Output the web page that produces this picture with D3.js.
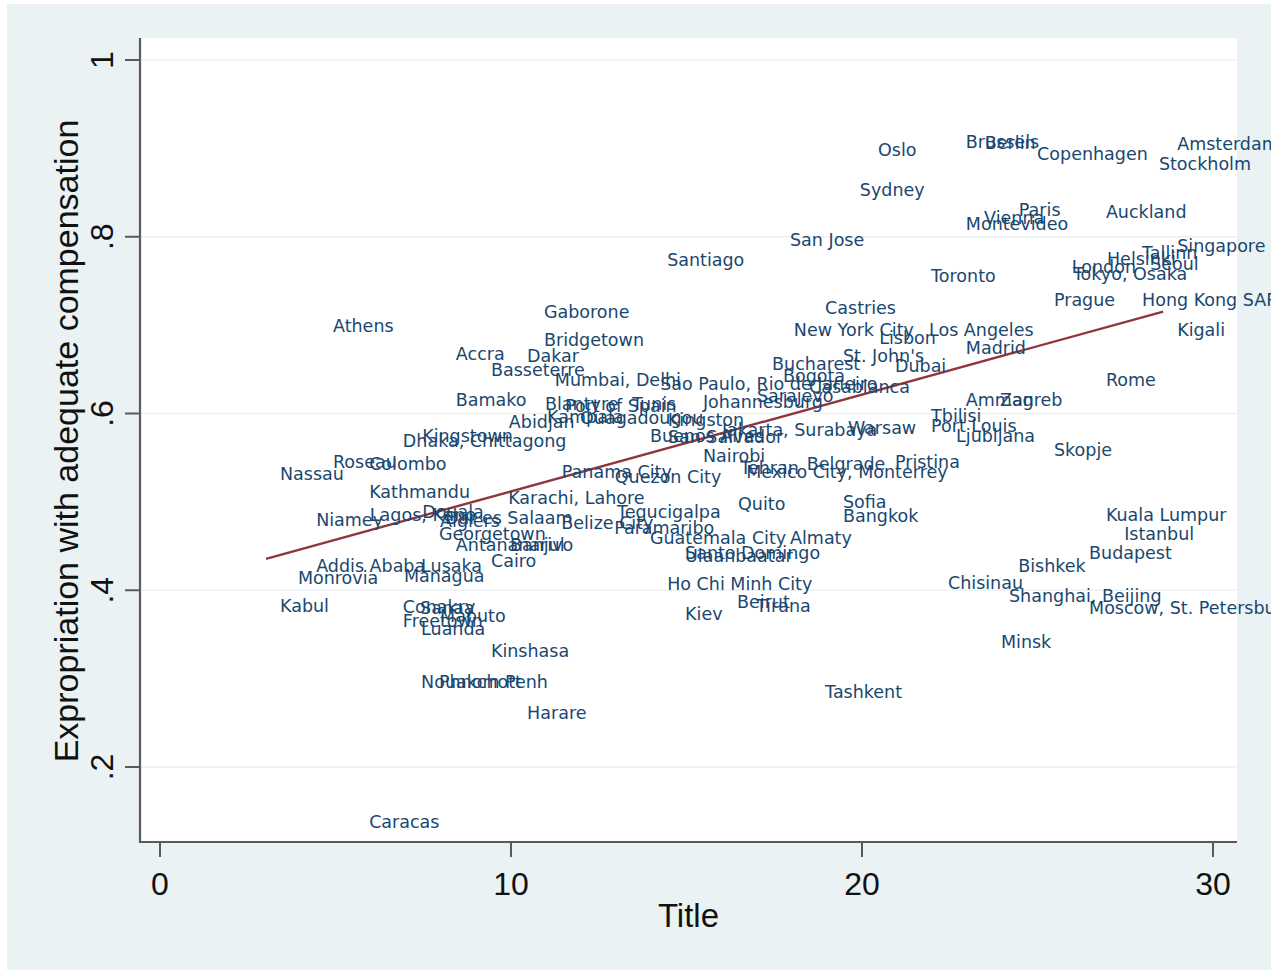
<!DOCTYPE html>
<html>
<head>
<meta charset="utf-8">
<script src="https://cdn.jsdelivr.net/npm/d3@7"></script>
<style>
  body { margin: 0; background: #fff; }
  text { font-family: "Liberation Sans", Arial, sans-serif; }
  .city { font-family: "DejaVu Sans", Verdana, sans-serif; font-size: 17.5px; fill: #1a476f; }
</style>
</head>
<body>
<div id="chart"></div>
<script>

// city labels, with title score (x) and expropriation score (y)
var cities = ['Oslo','Sydney','Brussels','Berlin','Copenhagen','Amsterdam','Stockholm','Paris','Vienna','Montevideo',
  'Auckland','San Jose','Santiago','Toronto','Singapore','Tallinn','Helsinki','Seoul','London','Tokyo, Osaka',
  'Prague','Hong Kong SAR','Kigali','Gaborone','Castries','Athens','New York City','Los Angeles','Lisbon','Bridgetown',
  'Madrid','Accra','Dakar',"St. John's",'Basseterre','Dubai','Bucharest','Mumbai, Delhi','Sao Paulo, Rio de Janeiro','Bogota',
  'Casablanca','Sarajevo','Johannesburg','Bamako','Rome','Amman','Zagreb','Blantyre','Port of Spain','Tunis',
  'Kampala','Ouagadougou','Kingston','Abidjan','Tbilisi','Port Louis','Warsaw','Jakarta, Surabaya','Buenos Aires','San Salvador',
  'Ljubljana','Skopje','Kingstown','Dhaka, Chittagong','Roseau','Colombo','Nassau','Nairobi','Belgrade','Pristina',
  'Tehran','Mexico City, Monterrey','Panama City','Quezon City','Kathmandu','Karachi, Lahore','Sofia','Quito','Bangkok','Tegucigalpa',
  'Douala','Niamey','Lagos, Kano','Algiers','Dar es Salaam','Belize City','Paramaribo','Georgetown','Guatemala City','Almaty',
  'Antananarivo','Banjul','Cairo','Santo Domingo','Ulaanbaatar','Addis Ababa','Lusaka','Monrovia','Managua','Kuala Lumpur',
  'Istanbul','Budapest','Bishkek','Chisinau','Shanghai, Beijing','Moscow, St. Petersburg','Minsk','Tashkent','Ho Chi Minh City','Beirut',
  'Tirana','Kiev','Kabul','Conakry','Sanaa','Freetown','Maputo','Luanda','Kinshasa','Nouakchott',
  'Phnom Penh','Harare','Caracas']

var title = [20.06,19.54,22.56,23.1,24.59,28.58,28.06,24.07,23.08,22.56,
  26.55,17.55,14.05,21.57,28.58,27.58,26.58,27.81,25.58,25.61,
  25.07,27.58,28.58,10.54,18.55,4.53,17.66,21.51,20.09,10.54,
  22.56,8.03,10.06,19.06,9.03,20.54,17.04,10.85,13.85,17.35,
  18.09,16.61,15.07,8.03,26.55,22.56,23.53,10.57,11.14,13.05,
  10.63,11.57,14.07,9.54,21.57,21.57,19.2,15.61,13.56,14.07,
  22.28,25.07,7.07,6.52,4.53,5.56,3.02,15.07,18.03,20.54,
  16.13,16.3,11.05,12.56,5.56,9.52,19.06,16.07,19.06,12.62,
  7.07,4.05,5.58,7.58,7.72,11.03,12.54,7.55,13.56,17.55,
  8.03,9.57,9.03,14.56,14.56,4.05,7.04,3.53,6.55,26.55,
  27.07,26.07,24.05,22.05,23.79,26.07,23.56,18.55,14.05,16.04,
  16.58,14.56,3.02,6.52,7.01,6.52,7.58,7.04,9.03,7.04,
  7.55,10.06,5.56]

var exprop = [0.899,0.853,0.908,0.906,0.894,0.905,0.883,0.831,0.822,0.815,
  0.828,0.797,0.774,0.756,0.790,0.782,0.775,0.769,0.766,0.758,
  0.729,0.729,0.695,0.715,0.720,0.699,0.695,0.695,0.686,0.683,
  0.674,0.668,0.665,0.665,0.649,0.654,0.656,0.638,0.634,0.643,
  0.630,0.620,0.613,0.616,0.638,0.616,0.616,0.611,0.609,0.611,
  0.596,0.595,0.593,0.591,0.597,0.586,0.584,0.582,0.575,0.574,
  0.575,0.559,0.575,0.569,0.545,0.543,0.532,0.552,0.543,0.545,
  0.539,0.534,0.534,0.529,0.511,0.505,0.500,0.498,0.484,0.489,
  0.489,0.480,0.485,0.479,0.482,0.477,0.471,0.464,0.459,0.459,
  0.452,0.452,0.434,0.443,0.439,0.428,0.428,0.414,0.416,0.486,
  0.464,0.443,0.428,0.409,0.394,0.380,0.342,0.285,0.407,0.387,
  0.382,0.373,0.382,0.381,0.380,0.366,0.371,0.357,0.332,0.296,
  0.296,0.262,0.138]

// fitted line
var fitIntercept = 0.4024
var fitSlope = 0.01095

var xTicks = [0, 10, 20, 30]
var yTicks = [0.2, 0.4, 0.6, 0.8, 1]
var yTickLabels = ['.2', '.4', '.6', '.8', '1']

var W = 1284, H = 972
var svg = d3.select("#chart").append("svg")
    .attr("width", W).attr("height", H)

// outer graph region
svg.append("rect").attr("x", 7).attr("y", 4).attr("width", 1264).attr("height", 966)
    .attr("fill", "#eaf2f3")

var x = d3.scaleLinear().domain([0, 30]).range([160, 1213])
var y = d3.scaleLinear().domain([0.2, 1]).range([767, 60])

var plotL = 140, plotR = 1237, plotT = 38, plotB = 842

svg.append("rect").attr("x", plotL).attr("y", plotT)
    .attr("width", plotR - plotL).attr("height", plotB - plotT)
    .attr("fill", "#ffffff")

svg.append("defs").append("clipPath").attr("id", "outer")
    .append("rect").attr("x", 7).attr("y", 4).attr("width", 1264).attr("height", 966)

// gridlines
svg.selectAll(".grid").data(yTicks).enter().append("line")
    .attr("x1", plotL).attr("x2", plotR)
    .attr("y1", d => y(d)).attr("y2", d => y(d))
    .attr("stroke", "#eaf2f3").attr("stroke-width", 1.6)

// fit line
var xmin = d3.min(title), xmax = d3.max(title)
svg.append("line")
    .attr("x1", x(xmin)).attr("y1", y(fitIntercept + fitSlope * xmin))
    .attr("x2", x(xmax)).attr("y2", y(fitIntercept + fitSlope * xmax))
    .attr("stroke", "#90353b").attr("stroke-width", 2.4)

// marker labels (position 3 o'clock, no marker symbol)
svg.append("g").attr("clip-path", "url(#outer)")
  .selectAll("text").data(cities).enter().append("text")
    .attr("class", "city")
    .attr("x", (d, i) => x(title[i]) + 14)
    .attr("y", (d, i) => y(exprop[i]))
    .attr("dy", "0.36em")
    .text(d => d)

// axes
var axisColor = "#5a5a5a"
svg.append("line").attr("x1", plotL).attr("x2", plotL).attr("y1", plotT).attr("y2", plotB + 1)
    .attr("stroke", axisColor).attr("stroke-width", 2.2)
svg.append("line").attr("x1", plotL - 1).attr("x2", plotR).attr("y1", plotB).attr("y2", plotB)
    .attr("stroke", axisColor).attr("stroke-width", 2.2)

svg.selectAll(".ytick").data(yTicks).enter().append("line")
    .attr("x1", plotL - 15).attr("x2", plotL)
    .attr("y1", d => y(d)).attr("y2", d => y(d))
    .attr("stroke", axisColor).attr("stroke-width", 2)

svg.selectAll(".xtick").data(xTicks).enter().append("line")
    .attr("x1", d => x(d)).attr("x2", d => x(d))
    .attr("y1", plotB).attr("y2", plotB + 15)
    .attr("stroke", axisColor).attr("stroke-width", 2)

svg.selectAll(".ylab").data(yTicks).enter().append("text")
    .attr("transform", d => "translate(113," + y(d) + ") rotate(-90)")
    .attr("text-anchor", "middle")
    .attr("font-size", "32px").attr("fill", "#111")
    .text((d, i) => yTickLabels[i])

svg.selectAll(".xlab").data(xTicks).enter().append("text")
    .attr("x", d => x(d)).attr("y", 895)
    .attr("text-anchor", "middle")
    .attr("font-size", "32px").attr("fill", "#111")
    .text(d => d)

svg.append("text")
    .attr("x", (plotL + plotR) / 2).attr("y", 927)
    .attr("text-anchor", "middle")
    .attr("font-size", "33px").attr("fill", "#111")
    .text("Title")

svg.append("text")
    .attr("transform", "translate(78,441) rotate(-90)")
    .attr("text-anchor", "middle")
    .attr("font-size", "34px").attr("fill", "#111")
    .text("Expropriation with adequate compensation")

</script>
</body>
</html>
